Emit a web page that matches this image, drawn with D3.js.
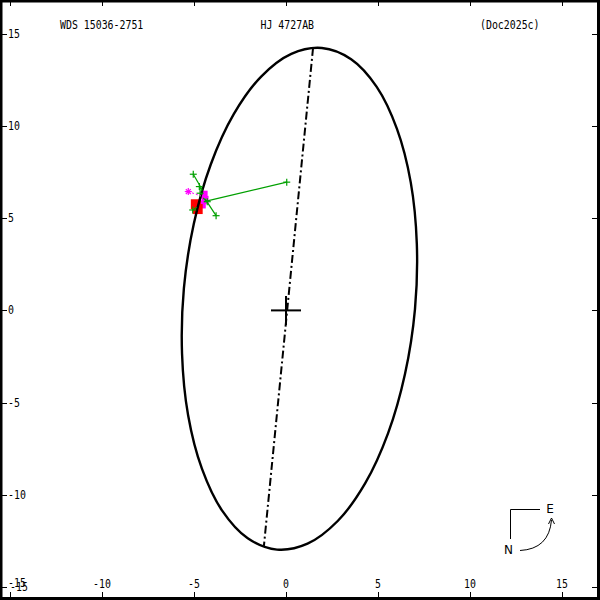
<!DOCTYPE html>
<html><head><meta charset="utf-8">
<script src="https://cdn.jsdelivr.net/npm/d3@7"></script>
<style>html,body{margin:0;padding:0;background:#fff}</style>
</head><body>
<svg id="c" width="600" height="600"></svg>
<script>
// ---- data ----
const titleLeft = "WDS 15036-2751";
const titleMid = "HJ 4727AB";
const titleRight = "(Doc2025c)";
const xTicks = [-15, -10, -5, 0, 5, 10, 15];
const yTicks = [-15, -10, -5, 0, 5, 10, 15];
// apparent orbit (arcsec)
const orbitX = [1.95, 0.29, -1.35, -2.84, -4.09, -5.01, -5.55, -5.65, -5.32, -4.57, -3.47, -2.08,
                -0.49, 1.17, 2.81, 4.30, 5.55, 6.47, 7.01, 7.11, 6.78, 6.03, 4.93, 3.54];
const orbitY = [14.24, 13.92, 12.69, 10.65, 7.92, 4.70, 1.19, -2.35, -5.69, -8.59, -10.87, -12.37,
                -12.98, -12.66, -11.43, -9.39, -6.66, -3.44, 0.07, 3.61, 6.95, 9.85, 12.13, 13.63];
// line of nodes
const nodesX = [1.47, -1.20];
const nodesY = [14.24, -12.78];
// micrometer measures (green +) and their predicted positions
const microX = [-5.04, -4.71, -3.80, 0.04, -4.28, -4.67, -5.07];
const microY = [7.39, 6.72, 5.14, 6.96, 5.90, 6.36, 5.45];
const microPX = [-4.55, -4.55, -4.40, -4.45, -4.50, -4.55, -4.85];
const microPY = [6.55, 6.45, 6.05, 5.90, 6.10, 6.30, 5.60];
// Hipparcos measure (magenta *)
const hipX = [-5.31], hipY = [6.45], hipPX = [-4.62], hipPY = [6.21];
// interferometric measures (filled squares)
const magSqX = [-4.45, -4.40, -4.55, -4.95];
const magSqY = [6.28, 6.00, 5.75, 5.75];
const redSqX = [-4.90, -4.80];
const redSqY = [5.76, 5.50];

// ---- drawing ----
const svg = d3.select("#c");
const x = d3.scaleLinear().domain([-15, 15]).range([10, 562]);
const y = d3.scaleLinear().domain([-15, 15]).range([586.8, 34]);
const FONT = "'DejaVu Sans Mono', 'Liberation Mono', monospace";
const CW = 5.95;

function txt(s, px, py, anchor) {
  return svg.append("text").attr("x", px).attr("y", py)
    .attr("font-family", FONT).attr("font-size", 12)
    .attr("text-anchor", anchor || "start")
    .attr("dominant-baseline", "central")
    .attr("textLength", s.length * CW).attr("lengthAdjust", "spacingAndGlyphs")
    .attr("fill", "#000").text(s);
}

// titles
txt(titleLeft, 60, 25);
txt(titleMid, 260.5, 25);
txt(titleRight, 480, 25);

// ticks
const tk = svg.append("g").attr("stroke", "#000").attr("stroke-width", 1);
xTicks.forEach(v => {
  const px = Math.round(x(v)) + 0.5;
  tk.append("line").attr("x1", px).attr("x2", px).attr("y1", 0).attr("y2", 6);
  tk.append("line").attr("x1", px).attr("x2", px).attr("y1", 592).attr("y2", 600);
});
yTicks.forEach(v => {
  const py = Math.round(y(v)) + 0.5;
  tk.append("line").attr("x1", 0).attr("x2", 7).attr("y1", py).attr("y2", py);
  tk.append("line").attr("x1", 592).attr("x2", 600).attr("y1", py).attr("y2", py);
});
// tick labels
xTicks.forEach(v => {
  let px = x(v), py = 583.5;
  if (v === xTicks[0]) { px += 9; py += 3.5; }
  txt(String(v), px, py, "middle");
});
yTicks.forEach(v => {
  let py = y(v);
  if (v === yTicks[0]) py -= 4;
  txt(String(v), 8, py, "start");
});

// interferometric squares (behind orbit)
magSqX.forEach((v, i) => {
  svg.append("rect").attr("x", x(v) - 3.5).attr("y", y(magSqY[i]) - 4)
    .attr("width", 7).attr("height", 8).attr("fill", "#ff00ff");
});
redSqX.forEach((v, i) => {
  svg.append("rect").attr("x", x(v) - 5).attr("y", y(redSqY[i]) - 5)
    .attr("width", 10).attr("height", 10).attr("fill", "#ff0000");
});

// orbit
const orbitPts = orbitX.map((v, i) => [x(v), y(orbitY[i])]);
svg.append("path")
  .attr("d", d3.line().curve(d3.curveCatmullRomClosed.alpha(0.5))(orbitPts))
  .attr("fill", "none").attr("stroke", "#000").attr("stroke-width", 2.4);

// line of nodes
svg.append("line")
  .attr("x1", x(nodesX[0])).attr("y1", y(nodesY[0]))
  .attr("x2", x(nodesX[1])).attr("y2", y(nodesY[1]))
  .attr("stroke", "#000").attr("stroke-width", 2)
  .attr("stroke-dasharray", "8,3,2,3");

// primary star
svg.append("line").attr("x1", x(0) - 15).attr("x2", x(0) + 15)
  .attr("y1", y(0)).attr("y2", y(0)).attr("stroke", "#000").attr("stroke-width", 2);
svg.append("line").attr("x1", x(0)).attr("x2", x(0))
  .attr("y1", y(0) - 14.5).attr("y2", y(0) + 14.5).attr("stroke", "#000").attr("stroke-width", 2);

// micrometer measures
const green = "#00a000";
microX.forEach((v, i) => {
  const cx = x(v), cy = y(microY[i]);
  svg.append("line").attr("x1", cx).attr("y1", cy)
    .attr("x2", x(microPX[i])).attr("y2", y(microPY[i]))
    .attr("stroke", green).attr("stroke-width", 1.2);
  svg.append("line").attr("x1", cx - 3.5).attr("x2", cx + 3.5).attr("y1", cy).attr("y2", cy)
    .attr("stroke", green).attr("stroke-width", 1.2);
  svg.append("line").attr("x1", cx).attr("x2", cx).attr("y1", cy - 3.5).attr("y2", cy + 3.5)
    .attr("stroke", green).attr("stroke-width", 1.2);
});

// Hipparcos measure
hipX.forEach((v, i) => {
  const cx = x(v), cy = y(hipY[i]);
  svg.append("line").attr("x1", cx).attr("y1", cy)
    .attr("x2", x(hipPX[i])).attr("y2", y(hipPY[i]))
    .attr("stroke", "#ff00ff").attr("stroke-width", 1).attr("stroke-dasharray", "2,2");
  [[1, 0], [0, 1], [0.7, 0.7], [0.7, -0.7]].forEach(d => {
    svg.append("line").attr("x1", cx - 3.5 * d[0]).attr("x2", cx + 3.5 * d[0])
      .attr("y1", cy - 3.5 * d[1]).attr("y2", cy + 3.5 * d[1])
      .attr("stroke", "#ff00ff").attr("stroke-width", 1.2);
  });
});

// compass
const cg = svg.append("g").attr("stroke", "#000").attr("fill", "none").attr("stroke-width", 1);
cg.append("path").attr("d", "M540,509.5 H510.5 V539");
cg.append("path").attr("d", "M520,550.5 Q549,549 551.5,520");
cg.append("path").attr("d", "M548.5,524 L551.5,518 L554.5,524");
svg.append("text").attr("x", 550).attr("y", 509).attr("text-anchor", "middle")
  .attr("dominant-baseline", "central").attr("font-family", "'DejaVu Sans', sans-serif")
  .attr("font-size", 12).text("E");
svg.append("text").attr("x", 508.5).attr("y", 550).attr("text-anchor", "middle")
  .attr("dominant-baseline", "central").attr("font-family", "'DejaVu Sans', sans-serif")
  .attr("font-size", 12).text("N");

// frame
svg.append("rect").attr("x", 1).attr("y", 1).attr("width", 597.5).attr("height", 597.5)
  .attr("fill", "none").attr("stroke", "#000").attr("stroke-width", 3);
</script>
</body></html>
